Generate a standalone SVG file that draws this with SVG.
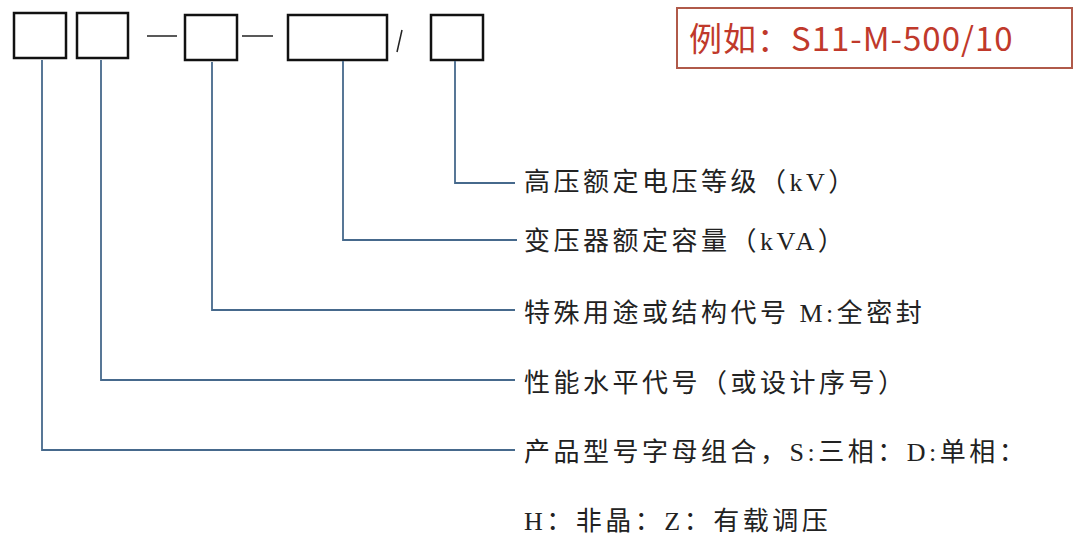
<svg xmlns="http://www.w3.org/2000/svg" width="1080" height="548" viewBox="0 0 1080 548">
<style>
.box{fill:#fff;stroke:#111;stroke-width:2.5}
.dash{stroke:#222;stroke-width:1.5;fill:none}
.con{stroke:#46698c;stroke-width:1.8;fill:none}
.t{font-family:"Liberation Serif","Noto Sans CJK SC",serif;font-size:26px;fill:#222;letter-spacing:3.5px}
</style>
<rect width="1080" height="548" fill="#fff"/>
<g id="code">
<rect id="b1" class="box" x="14" y="13" width="52" height="45"/>
<rect id="b2" class="box" x="77" y="13" width="51" height="45"/>
<line class="dash" x1="147" y1="36" x2="177" y2="36"/>
<rect id="b3" class="box" x="185" y="15" width="52" height="45"/>
<line class="dash" x1="242" y1="36" x2="273" y2="36"/>
<rect id="b4" class="box" x="288" y="15" width="99" height="45"/>
<line class="dash" x1="402" y1="30" x2="397" y2="52"/>
<rect id="b5" class="box" x="431" y="15" width="52" height="45"/>
</g>
<g id="connectors">
<polyline class="con" points="455,61 455,183 515,183"/>
<polyline class="con" points="343,61 343,240 517,240"/>
<polyline class="con" points="212,62 212,310 515,310"/>
<polyline class="con" points="101,60 101,380 515,380"/>
<polyline class="con" points="42,60 42,450 515,450"/>
</g>
<g id="labels">
<text class="t" x="524" y="191">高压额定电压等级（kV）</text>
<text class="t" x="524" y="250">变压器额定容量（kVA）</text>
<text class="t" x="524" y="322">特殊用途或结构代号 M:全密封</text>
<text class="t" x="524" y="392">性能水平代号（或设计序号）</text>
<text class="t" x="524" y="461">产品型号字母组合，S:三相：D:单相：</text>
<text class="t" x="524" y="530">H：非晶：Z：有载调压</text>
</g>
<g id="example">
<rect x="677" y="8" width="395" height="60" fill="#fff" stroke="#b05a4a" stroke-width="2"/>
<text x="689" y="51" font-family="'Noto Sans CJK SC','Liberation Sans',sans-serif" font-size="33" letter-spacing="1" fill="#c0392b">例如：S11-M-500/10</text>
</g>
</svg>
